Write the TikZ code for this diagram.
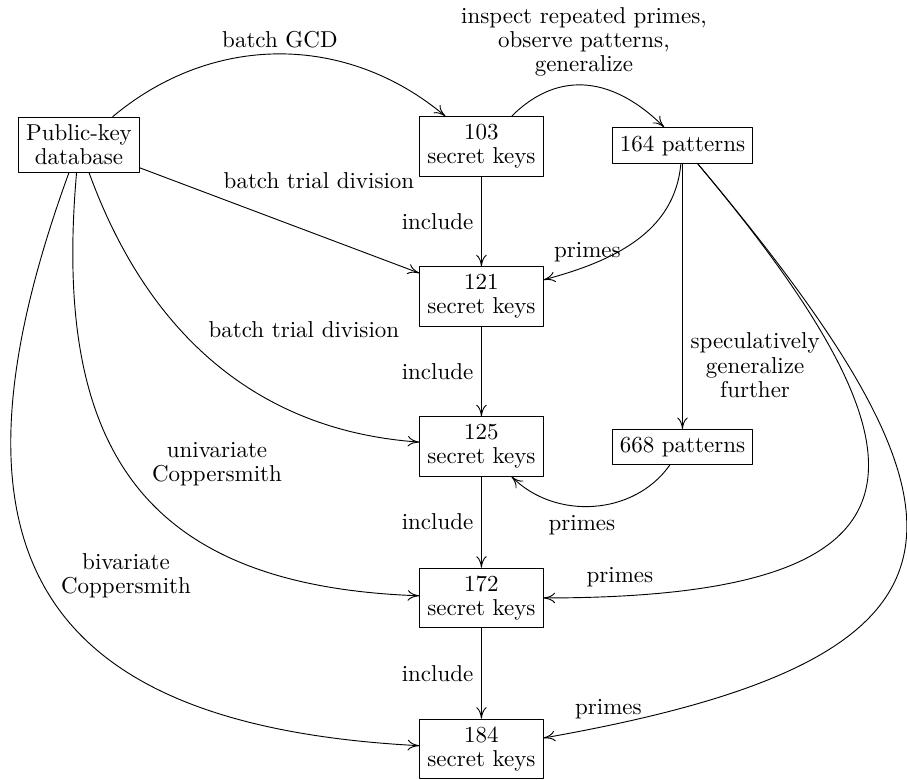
\documentclass[tikz,border=0pt]{standalone}
\usepackage{amsmath,amssymb}
\usepackage{tikz}
\usetikzlibrary{arrows.meta}

\begin{document}
\begin{tikzpicture}[line join=round, line cap=round, >={To[length=5pt,width=4.6pt]}, x=1cm, y=1cm,
 font=\fontsize{10}{10.5}\selectfont,
 keys/.style={draw, align=center},
 lbl/.style={align=center}]
 \useasboundingbox (0,0) rectangle (13.87,-11.927);
 % Boxes
 \def\kx{7.362}
 \def\px{10.436}
 \node[keys] (db) at (1.208,-2.217) {Public-key\\database};
 \node[keys] (k103) at (\kx,-2.24) {103\\secret keys};
 \node[keys] (k121) at (\kx,-4.534) {121\\secret keys};
 \node[keys] (k125) at (\kx,-6.827) {125\\secret keys};
 \node[keys] (k172) at (\kx,-9.144) {172\\secret keys};
 \node[keys] (k184) at (\kx,-11.453) {184\\secret keys};
 \node[keys] (p164) at (\px,-2.225) {164 patterns};
 \node[keys] (p668) at (\px,-6.835) {668 patterns};
 % include chain
 \draw[->] (k103) -- node[left] (inc1) {include} (k121);
 \draw[->] (k121) -- node[left] (inc2) {include} (k125);
 \draw[->] (k125) -- node[left] (inc3) {include} (k172);
 \draw[->] (k172) -- node[left] (inc4) {include} (k184);
 % from the database
 \draw[->] (db) to[out=40,in=140] (k103);
 \draw[->] (db) -- (k121);
 \draw[->] (db) to[out=-70,in=176] (k125);
 \draw[->] (db) to[out=-95,in=178,looseness=1.3] (k172);
 \draw[->] (db) to[out=-110,in=177,looseness=1.5] (k184);
 \node[lbl] (lgcd) at (4.281,-0.612) {batch GCD};
 \node[lbl] (ltrial1) at (4.878,-2.760) {batch trial division};
 \node[lbl] (ltrial2) at (4.648,-5.046) {batch trial division};
 \node[lbl] (luni) at (3.318,-7.095) {univariate\\Coppersmith};
 \node[lbl] (lbi) at (1.927,-8.807) {bivariate\\Coppersmith};
 % patterns
 \draw[->] (k103) to[out=45,in=135,looseness=1.15] (p164);
 \node[lbl] (linspect) at (8.930,-0.635) {inspect repeated primes,\\observe patterns,\\generalize};
 \draw[->] (p164) -- node[lbl, right, pos=0.76] (lspec) {speculatively\\generalize\\further} (p668);
 \draw[->] (p164) to[out=-95,in=15] (k121);
 \draw[->] (p668) to[out=-125,in=-45] (k125);
 \draw[->] (p164) to[out=-50,in=0,looseness=2.2] (k172);
 \draw[->] (p164) to[out=-50,in=10,looseness=2] (k184);
 \node[lbl] (lpr121) at (8.983,-3.861) {primes};
 \node[lbl] (lpr125) at (8.899,-8.028) {primes};
 \node[lbl] (lpr172) at (9.480,-8.830) {primes};
 \node[lbl] (lpr184) at (9.304,-10.849) {primes};
\end{tikzpicture}
\end{document}
